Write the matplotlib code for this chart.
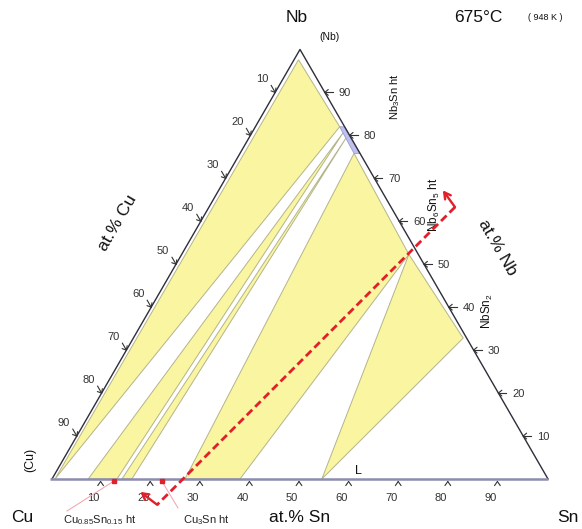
import numpy as np
import matplotlib
matplotlib.use("Agg")
import matplotlib.pyplot as plt
from matplotlib.patches import Polygon

plt.rcParams['font.family'] = ['Liberation Sans', 'DejaVu Sans']
plt.rcParams['mathtext.fontset'] = 'custom'
plt.rcParams['mathtext.rm'] = 'Liberation Sans'
plt.rcParams['mathtext.it'] = 'Liberation Sans'
plt.rcParams['mathtext.default'] = 'regular'

# ---------------- data: compositions in at.% (Sn, Nb); Cu = balance ----------------
tick_values = [10, 20, 30, 40, 50, 60, 70, 80, 90]
tick_labels = [str(v) for v in tick_values]

region_nb_nb3sn_cu = [(0.9, 97.6), (17.0, 82.0), (0.6, 0.0)]
region_b = [(18.4, 80.7), (7.3, 0.0), (13.1, 0.0)]
region_c = [(19.6, 79.6), (14.1, 0.0), (16.1, 0.0)]
region_d = [(23.0, 75.8), (45.8, 52.3), (37.9, 0.0), (26.8, 0.0)]
region_e = [(45.8, 52.3), (66.5, 32.8), (54.4, 0.0)]
nb3sn_band = [(18.0, 82.0), (24.2, 75.8), (23.0, 75.8), (17.0, 82.0)]

binary_sn = [12.7, 22.4]          # Cu0.85Sn0.15 ht, Cu3Sn ht
binary_nb = [-0.5, -0.5]
binary_names = [r'Cu$_{0.85}$Sn$_{0.15}$ ht', r'Cu$_3$Sn ht']

path_sn = [45.2, 49.6, 24.2, 19.3]  # arrow tip, corner, corner, arrow tip
path_nb = [67.2, 63.3, -6.0, -3.0]

# ---------------- helpers ----------------
S3 = np.sqrt(3) / 2


def tern(sn, nb):
    return ((sn + nb / 2) / 100.0, nb * S3 / 100.0)


U = 1 / 496.0  # one pixel in data units


def P(px, py):
    return ((px - 52) / 496.0, (479 - py) / 496.0)


fig = plt.figure(figsize=(5.82, 5.29), dpi=100)
ax = fig.add_axes([0, 0, 1, 1])
ax.set_xlim(-52 / 496, 530 / 496)
ax.set_ylim((479 - 529) / 496, 479 / 496)
ax.axis('off')

YEL = '#f9f5a0'
EDGE_Y = '#b4b48c'
for reg in [region_nb_nb3sn_cu, region_b, region_c, region_d, region_e]:
    pts = [tern(s, n) for s, n in reg]
    ax.add_patch(Polygon(pts, closed=True, facecolor=YEL, edgecolor=EDGE_Y, lw=0.7, zorder=2))
ax.add_patch(Polygon([tern(s, n) for s, n in nb3sn_band], closed=True,
                     facecolor='#c0c0ee', edgecolor='#9a9ad0', lw=0.6, zorder=3))

# triangle frame
cu_c, sn_c, nb_c = tern(0, 0), tern(100, 0), tern(0, 100)
ax.plot([cu_c[0], nb_c[0], sn_c[0]], [cu_c[1], nb_c[1], sn_c[1]], color='#2e2e3c', lw=1.0, zorder=5)
ax.plot([cu_c[0] - 2 * U, sn_c[0]], [0, 0], color='#8c8cae', lw=1.8, zorder=5, solid_capstyle='butt')

TC = '#333333'


def chevron(v, ang, arm=4.5, stem=0.0, spread=40):
    for s in (spread, -spread):
        b = np.deg2rad(ang + s)
        ax.plot([v[0], v[0] + arm * U * np.cos(b)], [v[1], v[1] + arm * U * np.sin(b)],
                color=TC, lw=0.8, zorder=6, solid_capstyle='round')
    if stem:
        a = np.deg2rad(ang)
        ax.plot([v[0], v[0] + stem * U * np.cos(a)], [v[1], v[1] + stem * U * np.sin(a)],
                color=TC, lw=0.8, zorder=6)


for v, lab in zip(tick_values, tick_labels):
    # bottom (Sn)
    bx, by = tern(v, 0)
    chevron((bx - 1 * U, by - 2.5 * U), -90, arm=5, spread=35)
    ax.text(bx - 8 * U, by - 19 * U, lab, ha='center', va='center', fontsize=8, color=TC)
    # right (Nb)
    rx, ry = tern(100 - v, v)
    chevron((rx, ry), 0, arm=4.5, stem=8)
    ax.text(rx + 20 * U, ry - 1 * U, lab, ha='center', va='center', fontsize=8, color=TC)
    # left (Cu)
    lx, ly = tern(0, 100 - v)
    chevron((lx, ly), 120, arm=4.5, stem=8)
    ax.text(lx - 13 * U, ly + 13 * U, lab, ha='center', va='center', fontsize=8, color=TC)

# red path
RED = '#e0202a'
ps = [tern(s, n) for s, n in zip(path_sn, path_nb)]
ax.plot([ps[1][0], ps[2][0]], [ps[1][1], ps[2][1]], color=RED, lw=2.0, ls=(0, (2.8, 1.5)), zorder=7)
for c, t in [(ps[1], ps[0]), (ps[2], ps[3])]:
    ax.annotate('', xy=t, xytext=c,
                arrowprops=dict(arrowstyle='->,head_length=0.45,head_width=0.25', color=RED, lw=1.7,
                                shrinkA=0, shrinkB=0), zorder=7)

# binary points with leader labels
bp = [tern(s, n) for s, n in zip(binary_sn, binary_nb)]
label_pos = [(100, 520), (206, 520)]
leader_start = [(67, 511), (178, 508)]
for (x, y), name, lp, ls in zip(bp, binary_names, label_pos, leader_start):
    ax.plot(x, y, 's', ms=2.6, color=RED, mec=RED, zorder=8)
    sx, sy = P(*ls)
    ax.plot([sx, x], [sy, y], color='#f2a0a8', lw=0.7, zorder=6)
    ax.text(*P(*lp), name, ha='center', va='center', fontsize=8, color='#222222')

# labels
ax.text(*P(297, 18), 'Nb', ha='center', va='center', fontsize=12.5, color='#111111')
ax.text(*P(478, 18), '675°C', ha='center', va='center', fontsize=12.5, color='#111111')
ax.text(*P(545, 17), '( 948 K )', ha='center', va='center', fontsize=6.5, color='#111111')
ax.text(*P(329, 37), '(Nb)', ha='center', va='center', fontsize=7.5, color='#111111')
ax.text(*P(22, 518), 'Cu', ha='center', va='center', fontsize=12.5, color='#111111')
ax.text(*P(557, 518), 'Sn', ha='left', va='center', fontsize=12.5, color='#111111')
ax.text(*P(300, 518), 'at.% Sn', ha='center', va='center', fontsize=12.5, color='#111111')
ax.text(*P(118, 223), 'at.% Cu', ha='center', va='center', fontsize=12.5, rotation=60, color='#111111')
ax.text(*P(497, 248), 'at.% Nb', ha='center', va='center', fontsize=12.5, rotation=-60, color='#111111')
ax.text(*P(30, 460), '(Cu)', ha='center', va='center', fontsize=9, rotation=90, color='#111111')
ax.text(*P(395, 97), r'Nb$_3$Sn ht', ha='center', va='center', fontsize=8, rotation=90, color='#111111')
ax.text(*P(434, 205), r'Nb$_6$Sn$_5$ ht', ha='center', va='center', fontsize=8.5, rotation=90, color='#111111')
ax.text(*P(487, 311), r'NbSn$_2$', ha='center', va='center', fontsize=8.5, rotation=90, color='#111111')
ax.text(*P(358, 471), 'L', ha='center', va='center', fontsize=9, color='#111111')

fig.savefig('out.png', dpi=100)
